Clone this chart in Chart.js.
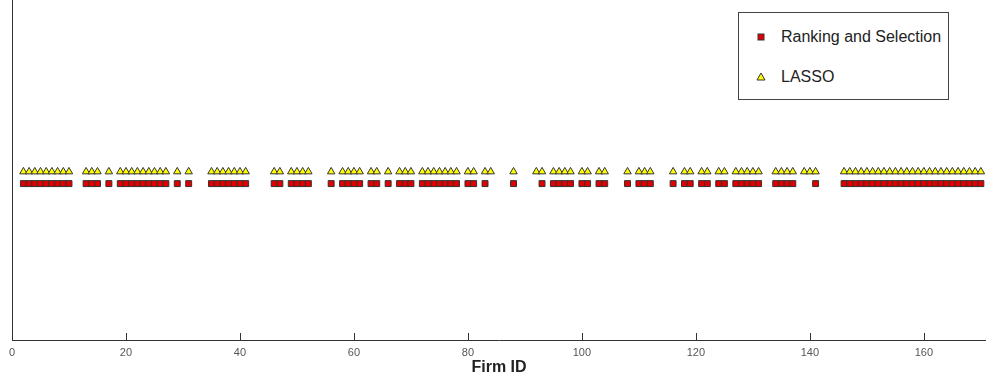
<!DOCTYPE html>
<html>
<head>
<meta charset="utf-8">
<script src="https://cdn.jsdelivr.net/npm/chart.js@4.4.1/dist/chart.umd.min.js"></script>
<style>
  html, body { margin: 0; padding: 0; background: #fff; }
  #wrap { position: relative; width: 986px; height: 378px; }
  #legend {
    position: absolute; left: 738px; top: 12px; width: 209px; height: 86px;
    border: 1px solid #444; background: #fff;
    font-family: 'Liberation Sans', Arial, Helvetica, sans-serif; font-size: 16px; color: #222;
  }
  .item { position: absolute; left: 0; height: 20px; line-height: 20px; }
  .item svg { position: absolute; left: 15px; top: 4px; }
  .item span { position: absolute; left: 42px; white-space: nowrap; }
</style>
</head>
<body>
<div id="wrap">
  <canvas id="c" width="986" height="378"></canvas>
  <div id="legend">
    <div class="item" style="top:14px">
      <svg width="14" height="12"><rect x="4" y="3" width="6" height="6" fill="#e00000" stroke="#333" stroke-width="1"/></svg>
      <span>Ranking and Selection</span>
    </div>
    <div class="item" style="top:54px">
      <svg width="14" height="12"><polygon points="7,2 11,9 3,9" fill="#ffff00" stroke="#333" stroke-width="1"/></svg>
      <span>LASSO</span>
    </div>
  </div>
</div>
<script>
// firm IDs selected by each method
const rankingIds = [2, 3, 4, 5, 6, 7, 8, 9, 10, 13, 14, 15, 17, 19, 20, 21, 22, 23, 24, 25, 26, 27,
  29, 31, 35, 36, 37, 38, 39, 40, 41, 46, 47, 49, 50, 51, 52, 56, 58, 59, 60, 61, 63, 64, 66,
  68, 69, 70, 72, 73, 74, 75, 76, 77, 78, 80, 81, 83, 88, 93, 95, 96, 97, 98, 100, 101, 103, 104,
  108, 110, 111, 112, 116, 118, 119, 121, 122, 124, 125, 127, 128, 129, 130, 131, 134, 135, 136, 137,
  141, 146, 147, 148, 149, 150, 151, 152, 153, 154, 155, 156, 157, 158, 159, 160, 161, 162, 163,
  164, 165, 166, 167, 168, 169, 170];
const lassoIds = [2, 3, 4, 5, 6, 7, 8, 9, 10, 13, 14, 15, 17, 19, 20, 21, 22, 23, 24, 25, 26, 27,
  29, 31, 35, 36, 37, 38, 39, 40, 41, 46, 47, 49, 50, 51, 52, 56, 58, 59, 60, 61, 63, 64, 66,
  68, 69, 70, 72, 73, 74, 75, 76, 77, 78, 80, 81, 83, 84, 88, 92, 93, 95, 96, 97, 98, 100, 101, 103, 104,
  108, 110, 111, 112, 116, 118, 119, 121, 122, 124, 125, 127, 128, 129, 130, 131, 134, 135, 136, 137,
  139, 140, 141, 146, 147, 148, 149, 150, 151, 152, 153, 154, 155, 156, 157, 158, 159, 160, 161, 162, 163,
  164, 165, 166, 167, 168, 169, 170];
const rankingLevel = 0.92;
const lassoLevel = 0.99;
const xTicks = [0, 20, 40, 60, 80, 100, 120, 140, 160];

const FONT = "'Liberation Sans', Arial, Helvetica, sans-serif";

// MATLAB-style tick marks pointing into the plot
const innerTicks = {
  id: 'innerTicks',
  afterDraw(chart) {
    const { ctx, chartArea, scales: { x } } = chart;
    ctx.save();
    ctx.strokeStyle = '#333';
    ctx.lineWidth = 1;
    xTicks.forEach(v => {
      const px = Math.round(x.getPixelForValue(v)) + 0.5;
      ctx.beginPath();
      ctx.moveTo(px, chartArea.bottom);
      ctx.lineTo(px, chartArea.bottom - 7);
      ctx.stroke();
    });
    ctx.restore();
  }
};

new Chart(document.getElementById('c'), {
  type: 'scatter',
  data: {
    datasets: [
      {
        label: 'Ranking and Selection',
        data: rankingIds.map(id => ({ x: id, y: rankingLevel })),
        pointStyle: 'rect',
        pointRadius: 4.2,
        backgroundColor: '#e00000',
        borderColor: '#333',
        borderWidth: 1,
      },
      {
        label: 'LASSO',
        data: lassoIds.map(id => ({ x: id, y: lassoLevel })),
        pointStyle: 'triangle',
        pointRadius: 4.3,
        backgroundColor: '#ffff00',
        borderColor: '#333',
        borderWidth: 1,
      },
    ],
  },
  options: {
    responsive: false,
    animation: false,
    layout: { autoPadding: false, padding: { left: 12, top: 0, right: 0, bottom: 0 } },
    plugins: { legend: { display: false }, tooltip: { enabled: false } },
    scales: {
      x: {
        type: 'linear',
        min: 0,
        max: 170.9,
        afterFit: s => { s.height = 38; s.paddingLeft = 0; s.paddingRight = 0; },
        afterBuildTicks: s => { s.ticks = xTicks.map(v => ({ value: v })); },
        ticks: { font: { family: FONT, size: 11 }, color: '#555', padding: 6 },
        grid: { display: false, drawTicks: false },
        border: { display: true, color: '#333' },
        title: {
          display: true,
          text: 'Firm ID',
          font: { family: FONT, size: 16, weight: 'bold' },
          color: '#222',
          padding: { top: 0, bottom: 1 },
        },
      },
      y: {
        min: 0,
        max: 2,
        afterFit: s => { s.width = 0; },
        ticks: { display: false },
        grid: { display: false, drawTicks: false },
        border: { display: true, color: '#333' },
      },
    },
  },
  plugins: [innerTicks],
});
</script>
</body>
</html>
